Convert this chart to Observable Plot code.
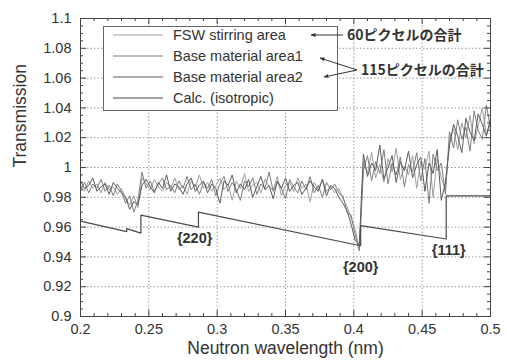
<!DOCTYPE html>
<html>
<head>
<meta charset="utf-8">
<script src="https://cdn.jsdelivr.net/npm/d3@7"></script>
<script src="https://cdn.jsdelivr.net/npm/@observablehq/plot@0.6"></script>
<style>
  html, body { margin: 0; padding: 0; background: #fff; }
  #wrap { position: relative; width: 507px; height: 363px; }
  #wrap svg { display: block; }
  #overlay { position: absolute; left: 0; top: 0; }
</style>
</head>
<body>
<div id="wrap"><div id="chart"></div></div>
<script>
// Sampling grid (nm)
const wavelength = [
  0.200,0.203,0.206,0.209,0.212,0.215,0.218,0.221,0.224,0.227,
  0.230,0.233,0.236,0.239,0.242,0.245,0.248,0.251,0.254,0.257,
  0.260,0.263,0.266,0.269,0.272,0.275,0.278,0.281,0.284,0.287,
  0.290,0.293,0.296,0.299,0.302,0.305,0.308,0.311,0.314,0.317,
  0.320,0.323,0.326,0.329,0.332,0.335,0.338,0.341,0.344,0.347,
  0.350,0.353,0.356,0.359,0.362,0.365,0.368,0.371,0.374,0.377,
  0.380,0.383,0.386,0.389,0.392,0.395,0.398,0.401,0.404,0.407,
  0.410,0.413,0.416,0.419,0.422,0.425,0.428,0.431,0.434,0.437,
  0.440,0.443,0.446,0.449,0.452,0.455,0.458,0.461,0.464,0.467,
  0.470,0.473,0.476,0.479,0.482,0.485,0.488,0.491,0.494,0.497,
  0.500
];
// FSW stirring area
const fswStirring = [
  0.988,0.984,0.991,0.986,0.989,0.983,0.990,0.985,0.987,0.982,0.986,
  0.979,0.975,0.981,0.973,0.993,
  0.989,0.985,0.992,0.987,0.984,0.990,0.986,0.993,0.985,0.988,0.982,0.991,0.987,0.995,0.986,
  0.990,0.984,0.988,0.993,0.985,0.989,0.978,0.991,0.986,0.996,0.984,0.988,0.990,0.983,0.992,0.987,0.985,
  0.994,0.981,0.988,0.990,0.984,0.993,0.986,0.989,0.977,0.990,0.985,0.992,0.984,0.987,0.983,0.986,
  0.979,0.974,0.966,0.958,0.946,
  1.004,0.996,1.010,0.993,1.002,0.990,1.006,0.997,1.013,0.992,1.001,0.995,1.008,0.986,1.004,0.999,1.011,0.980,1.006,0.993,0.985,
  1.018,1.026,1.012,1.030,1.020,1.035,1.016,1.028,1.040,1.022,1.030
];
// Base material area1
const baseArea1 = [
  0.985,0.990,0.983,0.989,0.986,0.992,0.984,0.988,0.981,0.989,0.984,
  0.976,0.981,0.970,0.978,0.997,
  0.986,0.991,0.984,0.989,0.993,0.985,0.988,0.983,0.991,0.986,0.994,0.985,0.989,0.982,0.990,
  0.986,0.992,0.981,0.989,0.994,0.984,0.990,0.985,0.978,0.991,0.987,0.993,0.982,0.989,0.986,0.997,0.984,
  0.990,0.986,0.979,0.992,0.987,0.983,0.991,0.985,0.994,0.983,0.988,0.980,0.990,0.985,0.989,0.983,
  0.981,0.970,0.968,0.955,0.944,
  0.998,1.008,0.991,1.004,0.996,1.012,0.989,1.003,0.995,1.007,0.987,1.002,0.997,1.010,0.991,1.006,0.976,1.009,0.998,1.003,0.982,
  1.024,1.013,1.032,1.019,1.027,1.011,1.038,1.025,1.019,1.042,1.026
];
// Base material area2
const baseArea2 = [
  0.991,0.986,0.988,0.993,0.984,0.987,0.989,0.982,0.990,0.986,0.983,
  0.980,0.972,0.977,0.975,0.988,
  0.992,0.987,0.983,0.990,0.986,0.995,0.984,0.989,0.987,0.982,0.989,0.993,0.984,0.988,0.991,
  0.983,0.989,0.986,0.976,0.991,0.988,0.995,0.983,0.989,0.985,0.992,0.980,0.987,0.994,0.985,0.988,0.979,
  0.991,0.986,0.993,0.984,0.988,0.990,0.982,0.986,0.991,0.987,0.984,0.992,0.981,0.988,0.986,0.980,
  0.976,0.971,0.962,0.951,0.948,
  1.009,0.994,1.003,0.998,1.015,0.992,1.000,1.008,0.990,1.004,0.998,1.011,0.993,1.002,1.007,0.984,1.003,0.996,1.012,0.978,0.990,
  1.015,1.029,1.021,1.010,1.033,1.024,1.018,1.036,1.029,1.021,1.033
];
// Calc. (isotropic) breakpoints
const calcWavelength = [0.200, 0.2338, 0.2338, 0.2442, 0.2442, 0.2863, 0.2863, 0.405, 0.405, 0.4676, 0.4676, 0.500];
const calcTransmission = [0.964, 0.957, 0.959, 0.956, 0.968, 0.960, 0.970, 0.9475, 0.961, 0.952, 0.981, 0.981];

// Bragg edge labels
const edgeLabels = ["{220}", "{200}", "{111}"];
const edgeX = [0.2835, 0.405, 0.4694];
const edgeY = [0.9523, 0.9329, 0.9443];

// Ticks
const xMajor = [0.2, 0.25, 0.3, 0.35, 0.4, 0.45, 0.5];
const xMinor = d3.range(20, 51).map(d => d / 100).filter(d => !xMajor.some(m => Math.abs(m - d) < 1e-9));
const yMajor = [0.9, 0.92, 0.94, 0.96, 0.98, 1, 1.02, 1.04, 1.06, 1.08, 1.1];
const yMinor = d3.range(180, 221).map(d => d / 200).filter(d => !yMajor.some(m => Math.abs(m - d) < 1e-9));

const seriesNames = ["FSW stirring area", "Base material area1", "Base material area2", "Calc. (isotropic)"];
const seriesColors = ["#a0a0a0", "#7e7e7e", "#5c5c5c", "#4a4a4a"];
const noteTexts = ["60ピクセルの合計", "115ピクセルの合計"];

const fmt = d => String(+d.toFixed(3));

const W = 507, H = 363;
const mL = 80, mR = 17, mT = 18, mB = 47;
const frameH = H - mT - mB, frameW = W - mL - mR;
const font = "'Liberation Sans', Arial, Helvetica, sans-serif";

const measured = [fswStirring, baseArea1, baseArea2];
const lines = measured.map((vals, k) =>
  Plot.line(wavelength.map((w, i) => ({w, t: vals[i]})), {x: "w", y: "t", stroke: seriesColors[k], strokeWidth: 1})
);
const calc = calcWavelength.map((w, i) => ({w, t: calcTransmission[i]}));
const labels = edgeLabels.map((s, i) => ({s, x: edgeX[i], y: edgeY[i]}));

const chart = Plot.plot({
  width: W, height: H,
  marginLeft: mL, marginRight: mR, marginTop: mT, marginBottom: mB,
  style: {fontFamily: font, color: "#333", background: "#fff"},
  x: {domain: [0.2, 0.5]},
  y: {domain: [0.9, 1.1]},
  marks: [
    Plot.gridX(xMajor.slice(1, -1), {stroke: "#999", strokeOpacity: 1, strokeDasharray: "1.5,2"}),
    Plot.gridY(yMajor.slice(1, -1), {stroke: "#999", strokeOpacity: 1, strokeDasharray: "1.5,2"}),
    ...lines,
    Plot.line(calc, {x: "w", y: "t", stroke: seriesColors[3], strokeWidth: 1.2}),
    // inward ticks, four sides
    Plot.tickX(xMajor, {x: d => d, insetTop: frameH - 6, stroke: "#444"}),
    Plot.tickX(xMajor, {x: d => d, insetBottom: frameH - 6, stroke: "#444"}),
    Plot.tickX(xMinor, {x: d => d, insetTop: frameH - 3, stroke: "#444"}),
    Plot.tickX(xMinor, {x: d => d, insetBottom: frameH - 3, stroke: "#444"}),
    Plot.tickY(yMajor, {y: d => d, insetRight: frameW - 6, stroke: "#444"}),
    Plot.tickY(yMajor, {y: d => d, insetLeft: frameW - 6, stroke: "#444"}),
    Plot.tickY(yMinor, {y: d => d, insetRight: frameW - 3, stroke: "#444"}),
    Plot.tickY(yMinor, {y: d => d, insetLeft: frameW - 3, stroke: "#444"}),
    Plot.frame({stroke: "#444"}),
    Plot.axisX(xMajor, {tickSize: 0, tickPadding: 7, tickFormat: fmt, fontSize: 14.5, label: null, fill: "#333"}),
    Plot.axisY(yMajor, {tickSize: 0, tickPadding: 9, tickFormat: fmt, fontSize: 14.5, label: null, fill: "#333"}),
    Plot.text(["Transmission"], {text: d => d, frameAnchor: "left", rotate: -90, dx: -60, fontSize: 17.5, fill: "#333"}),
    Plot.text(["Neutron wavelength (nm)"], {text: d => d, frameAnchor: "bottom", dy: 37, fontSize: 17.5, fill: "#333"}),
    Plot.text(labels, {x: "x", y: "y", text: "s", fontSize: 14.5, fontWeight: "bold", fill: "#333"})
  ]
});

document.getElementById("chart").appendChild(chart);

// Legend and annotations in an overlay SVG
const svg = d3.select("#wrap").append("svg").attr("id", "overlay")
  .attr("width", W).attr("height", H).attr("viewBox", `0 0 ${W} ${H}`);
const defs = svg.append("defs");
defs.append("marker").attr("id", "ah").attr("viewBox", "0 0 10 10")
  .attr("refX", 9).attr("refY", 5).attr("markerWidth", 5).attr("markerHeight", 5)
  .attr("orient", "auto")
  .append("path").attr("d", "M0,1 L10,5 L0,9 Z").attr("fill", "#333");

const lg = svg.append("g").attr("font-family", font);
lg.append("rect").attr("x", 103.5).attr("y", 26.5).attr("width", 234).attr("height", 84)
  .attr("fill", "#ffffff").attr("stroke", "#666666").attr("stroke-width", 1);
const rowY = [35, 56, 77, 98];
seriesNames.forEach((name, i) => {
  lg.append("line").attr("x1", 113).attr("x2", 163).attr("y1", rowY[i]).attr("y2", rowY[i])
    .attr("stroke", seriesColors[i]).attr("stroke-width", 1.2);
  lg.append("text").attr("x", 173).attr("y", rowY[i]).attr("dy", "0.35em")
    .attr("text-anchor", "start").attr("font-size", 14.5).attr("fill", "#333").text(name);
});

const ann = svg.append("g").attr("stroke", "#333").attr("stroke-width", 1).attr("fill", "none");
ann.append("line").attr("x1", 343).attr("y1", 35).attr("x2", 311).attr("y2", 35).attr("marker-end", "url(#ah)");
ann.append("line").attr("x1", 357).attr("y1", 70).attr("x2", 320).attr("y2", 58).attr("marker-end", "url(#ah)");
ann.append("line").attr("x1", 357).attr("y1", 70).attr("x2", 324).attr("y2", 77).attr("marker-end", "url(#ah)");
const jp = "'Noto Sans CJK JP', 'Noto Sans', sans-serif";
svg.append("text").attr("x", 347).attr("y", 35).attr("dy", "0.35em").attr("text-anchor", "start")
  .attr("font-family", jp).attr("font-size", 14).attr("font-weight", "bold").attr("fill", "#333").text(noteTexts[0]);
svg.append("text").attr("x", 361).attr("y", 70).attr("dy", "0.35em").attr("text-anchor", "start")
  .attr("font-family", jp).attr("font-size", 14).attr("font-weight", "bold").attr("fill", "#333").text(noteTexts[1]);
</script>
</body>
</html>
